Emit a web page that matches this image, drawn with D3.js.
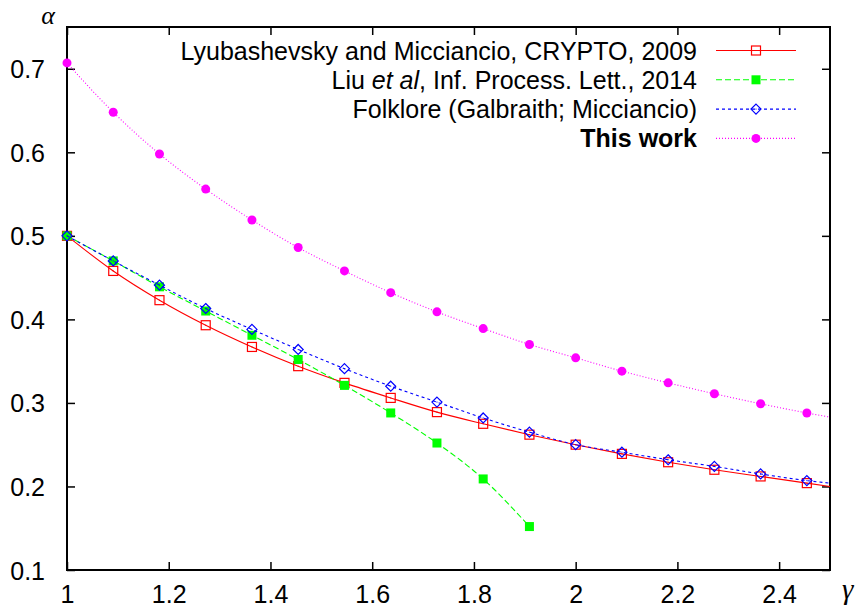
<!DOCTYPE html>
<html>
<head>
<meta charset="utf-8">
<script src="https://cdn.jsdelivr.net/npm/d3@7"></script>
<style>
	body { margin: 0; background: #fff; }
	text { font-family: "Liberation Sans", Arial, sans-serif; }
</style>
</head>
<body>
<div id="chart"></div>
<script>
	// gamma values at the markers (step 1/11), plus the curve end at 2.5
	var gammas = [1, 1.0909, 1.1818, 1.2727, 1.3636, 1.4545, 1.5455, 1.6364, 1.7273,
		1.8182, 1.9091, 2, 2.0909, 2.1818, 2.2727, 2.3636, 2.4545, 2.5];

	var lyubashevsky = [0.5, 0.458, 0.423, 0.393, 0.367, 0.344, 0.324, 0.306, 0.289,
		0.275, 0.262, 0.25, 0.239, 0.229, 0.22, 0.212, 0.204, 0.2];
	var liu = [0.5, 0.470, 0.439, 0.410, 0.381, 0.352, 0.321, 0.288, 0.252, 0.209, 0.152];
	var folklore = [0.5, 0.470, 0.441, 0.413, 0.388, 0.364, 0.341, 0.320, 0.301,
		0.282, 0.265, 0.250, 0.241, 0.232, 0.224, 0.215, 0.207, 0.204];
	var thisWork = [0.707, 0.648, 0.598, 0.556, 0.519, 0.486, 0.458, 0.432, 0.409,
		0.389, 0.370, 0.354, 0.338, 0.324, 0.311, 0.299, 0.288, 0.283];

	var xTicks = [1, 1.2, 1.4, 1.6, 1.8, 2, 2.2, 2.4];
	var yTicks = [0.1, 0.2, 0.3, 0.4, 0.5, 0.6, 0.7];

	// legend labels as runs of [text, style]
	var seriesNames = [
		[["Lyubashevsky and Micciancio, CRYPTO, 2009", ""]],
		[["Liu ", ""], ["et al", "italic"], [", Inf. Process. Lett., 2014", ""]],
		[["Folklore (Galbraith; Micciancio)", ""]],
		[["This work", "bold"]]
	];

	var width = 859,
		height = 609,
		margin = { top: 27, right: 29, bottom: 39, left: 67 };

	var series = [
		{ name: seriesNames[0], values: lyubashevsky, color: "#ff0000", dash: null, marker: "openSquare" },
		{ name: seriesNames[1], values: liu, color: "#00ff00", dash: "6,3", marker: "square" },
		{ name: seriesNames[2], values: folklore, color: "#0000ff", dash: "3,3", marker: "diamond" },
		{ name: seriesNames[3], values: thisWork, color: "#ff00ff", dash: "1,2", marker: "circle" }
	];

	var svg = d3.select("#chart").append("svg")
		.attr("width", width)
		.attr("height", height);

	var x = d3.scaleLinear()
		.domain([1, 2.5])
		.range([margin.left, width - margin.right]);

	var y = d3.scaleLinear()
		.domain([0.1, 0.75])
		.range([height - margin.bottom, margin.top]);

	var tickLen = 8;

	// axes: bottom/left with labels, top/right mirrored ticks only
	var axisBottom = svg.append("g")
		.attr("transform", "translate(0," + (height - margin.bottom) + ")")
		.call(d3.axisBottom(x).tickValues(xTicks).tickSizeInner(-tickLen).tickSizeOuter(0)
			.tickFormat(function(d) { return d3.format("")(d); }));
	var axisTop = svg.append("g")
		.attr("transform", "translate(0," + margin.top + ")")
		.call(d3.axisTop(x).tickValues(xTicks).tickSizeInner(-tickLen).tickSizeOuter(0).tickFormat(""));
	var axisLeft = svg.append("g")
		.attr("transform", "translate(" + margin.left + ",0)")
		.call(d3.axisLeft(y).tickValues(yTicks).tickSizeInner(-tickLen).tickSizeOuter(0).tickPadding(22)
			.tickFormat(d3.format(".1f")));
	var axisRight = svg.append("g")
		.attr("transform", "translate(" + (width - margin.right) + ",0)")
		.call(d3.axisRight(y).tickValues(yTicks).tickSizeInner(-tickLen).tickSizeOuter(0).tickFormat(""));

	[axisBottom, axisTop, axisLeft, axisRight].forEach(function(a) {
		a.select(".domain").remove();
		a.selectAll("line").attr("stroke", "#000").attr("stroke-width", 1.5);
		a.selectAll("text")
			.attr("fill", "#000")
			.style("font-family", '"Liberation Sans", Arial, sans-serif')
			.style("font-size", "25px");
	});
	axisLeft.selectAll("text").attr("dy", "0.36em");
	// baseline kept just inside the bottom edge
	axisBottom.selectAll("text").attr("y", 33).attr("dy", null);

	// frame
	svg.append("rect")
		.attr("x", margin.left)
		.attr("y", margin.top)
		.attr("width", width - margin.left - margin.right)
		.attr("height", height - margin.top - margin.bottom)
		.attr("fill", "none")
		.attr("stroke", "#000")
		.attr("stroke-width", 2);

	// axis symbols
	svg.append("text")
		.attr("x", 48)
		.attr("y", 24)
		.attr("text-anchor", "middle")
		.style("font-family", '"Liberation Serif", "DejaVu Serif", serif')
		.style("font-style", "italic")
		.style("font-size", "26px")
		.text("\u03b1");
	svg.append("text")
		.attr("x", 842)
		.attr("y", 599)
		.style("font-family", '"Liberation Serif", "DejaVu Serif", serif')
		.style("font-style", "italic")
		.style("font-size", "29px")
		.text("\u03b3");

	var line = d3.line()
		.x(function(d) { return x(d[0]); })
		.y(function(d) { return y(d[1]); })
		.curve(d3.curveMonotoneX);

	function drawMarker(g, type, color, cx, cy) {
		if (type === "openSquare") {
			g.append("rect").attr("x", cx - 4.5).attr("y", cy - 4.5).attr("width", 9).attr("height", 9)
				.attr("fill", "none").attr("stroke", color).attr("stroke-width", 1.2);
			g.append("rect").attr("x", cx - 0.5).attr("y", cy - 0.5).attr("width", 1).attr("height", 1).attr("fill", color);
		} else if (type === "square") {
			g.append("rect").attr("x", cx - 4.5).attr("y", cy - 4.5).attr("width", 9).attr("height", 9)
				.attr("fill", color);
		} else if (type === "diamond") {
			g.append("path")
				.attr("d", "M" + cx + "," + (cy - 5) + "L" + (cx + 5) + "," + cy + "L" + cx + "," + (cy + 5) + "L" + (cx - 5) + "," + cy + "Z")
				.attr("fill", "none").attr("stroke", color).attr("stroke-width", 1.2);
			g.append("rect").attr("x", cx - 0.5).attr("y", cy - 0.5).attr("width", 1).attr("height", 1).attr("fill", color);
		} else {
			g.append("circle").attr("cx", cx).attr("cy", cy).attr("r", 4.5).attr("fill", color);
		}
	}

	var plot = svg.append("g").attr("class", "series");

	series.forEach(function(s) {
		var pts = s.values.map(function(v, i) { return [gammas[i], v]; });
		var g = plot.append("g");
		g.append("path")
			.attr("d", line(pts))
			.attr("fill", "none")
			.attr("stroke", s.color)
			.attr("stroke-width", 1.1)
			.attr("stroke-dasharray", s.dash);
		pts.forEach(function(p) {
			if (p[0] < 2.5) drawMarker(g, s.marker, s.color, x(p[0]), y(p[1]));
		});
	});

	// legend
	var legend = svg.append("g").attr("class", "legend");
	series.forEach(function(s, i) {
		var ly = 50.5 + i * 29.3;
		var t = legend.append("text")
			.attr("x", 697)
			.attr("y", ly)
			.attr("dy", "0.36em")
			.attr("text-anchor", "end")
			.style("font-size", "25px");
		s.name.forEach(function(run) {
			var ts = t.append("tspan").text(run[0]);
			if (run[1] === "italic") ts.style("font-style", "italic");
			if (run[1] === "bold") ts.style("font-weight", "bold");
		});
		legend.append("line")
			.attr("x1", 716).attr("x2", 796)
			.attr("y1", ly).attr("y2", ly)
			.attr("stroke", s.color)
			.attr("stroke-width", 1.1)
			.attr("stroke-dasharray", s.dash);
		drawMarker(legend, s.marker, s.color, 756, ly);
	});
</script>
</body>
</html>
